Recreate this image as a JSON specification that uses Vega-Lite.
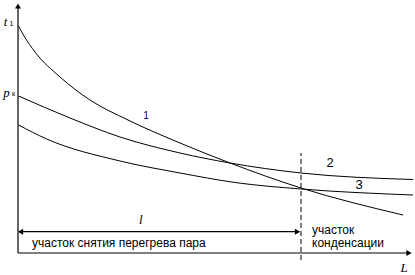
{
  "$schema": "https://vega.github.io/schema/vega-lite/v6.json",
  "width": 415,
  "height": 275,
  "padding": 0,
  "autosize": {"type": "none"},
  "background": "white",
  "config": {"view": {"stroke": null}},
  "datasets": {
    "curves": [
      {"curve": "1", "L": 0.5, "t": 227},
      {"curve": "1", "L": 6, "t": 217},
      {"curve": "1", "L": 17, "t": 201},
      {"curve": "1", "L": 42, "t": 176},
      {"curve": "1", "L": 72, "t": 153},
      {"curve": "1", "L": 110, "t": 133},
      {"curve": "1", "L": 162, "t": 110},
      {"curve": "1", "L": 212, "t": 90},
      {"curve": "1", "L": 283, "t": 65},
      {"curve": "1", "L": 385, "t": 38},
      {"curve": "2", "L": 0.5, "t": 157},
      {"curve": "2", "L": 52, "t": 135},
      {"curve": "2", "L": 102, "t": 116},
      {"curve": "2", "L": 162, "t": 100},
      {"curve": "2", "L": 212, "t": 90},
      {"curve": "2", "L": 283, "t": 80},
      {"curve": "2", "L": 395, "t": 73.5},
      {"curve": "3", "L": 0.5, "t": 128},
      {"curve": "3", "L": 28.7, "t": 114},
      {"curve": "3", "L": 102, "t": 92},
      {"curve": "3", "L": 162, "t": 80},
      {"curve": "3", "L": 217, "t": 70.5},
      {"curve": "3", "L": 283, "t": 64},
      {"curve": "3", "L": 395, "t": 58}
    ]
  },
  "encoding": {
    "x": {"type": "quantitative", "scale": {"domain": [-18, 397], "nice": false, "zero": false}, "axis": null},
    "y": {"type": "quantitative", "scale": {"domain": [-22, 253], "nice": false, "zero": false}, "axis": null}
  },
  "layer": [
    {
      "data": {"values": [{"x1": 0, "x2": 0, "y1": 0, "y2": 246}, {"x1": 0, "x2": 391, "y1": 0, "y2": 0}, {"x1": 2, "x2": 281, "y1": 21.3, "y2": 21.3}]},
      "mark": {"type": "rule", "color": "black", "strokeWidth": 1.2},
      "encoding": {"x": {"field": "x1"}, "x2": {"field": "x2"}, "y": {"field": "y1"}, "y2": {"field": "y2"}}
    },
    {
      "data": {"values": [{"x": 283, "y1": -7, "y2": 100}]},
      "mark": {"type": "rule", "color": "black", "strokeWidth": 1, "strokeDash": [5, 3]},
      "encoding": {"x": {"field": "x"}, "y": {"field": "y1"}, "y2": {"field": "y2"}}
    },
    {
      "data": {"values": [{"x": 0, "y": 247}]},
      "mark": {"type": "point", "shape": "triangle-up", "filled": true, "color": "black", "size": 36, "opacity": 1},
      "encoding": {"x": {"field": "x"}, "y": {"field": "y"}}
    },
    {
      "data": {"values": [{"x": 391, "y": 0}, {"x": 279.5, "y": 21.3}]},
      "mark": {"type": "point", "shape": "triangle-right", "filled": true, "color": "black", "size": 36, "opacity": 1},
      "encoding": {"x": {"field": "x"}, "y": {"field": "y"}}
    },
    {
      "data": {"values": [{"x": 2.5, "y": 21.3}]},
      "mark": {"type": "point", "shape": "triangle-left", "filled": true, "color": "black", "size": 36, "opacity": 1},
      "encoding": {"x": {"field": "x"}, "y": {"field": "y"}}
    },
    {
      "data": {"name": "curves"},
      "mark": {"type": "line", "color": "black", "strokeWidth": 1, "interpolate": "monotone"},
      "encoding": {"x": {"field": "L"}, "y": {"field": "t"}, "detail": {"field": "curve"}}
    },
    {
      "data": {"values": [{"label": "1", "x": 128, "y": 137}]},
      "mark": {"type": "text", "font": "Liberation Sans", "fontSize": 10, "color": "black"},
      "encoding": {"x": {"field": "x"}, "y": {"field": "y"}, "text": {"field": "label"}}
    },
    {
      "data": {"values": [{"label": "2", "x": 312, "y": 90}, {"label": "3", "x": 341, "y": 68}]},
      "mark": {"type": "text", "font": "Liberation Sans", "fontSize": 13, "color": "black"},
      "encoding": {"x": {"field": "x"}, "y": {"field": "y"}, "text": {"field": "label"}}
    },
    {
      "data": {"values": [
        {"label": "участок снятия перегрева пара", "x": 14, "y": 10},
        {"label": "участок", "x": 294, "y": 23},
        {"label": "конденсации", "x": 294, "y": 10}
      ]},
      "mark": {"type": "text", "font": "Liberation Sans", "fontSize": 12, "color": "black", "align": "left", "baseline": "middle"},
      "encoding": {"x": {"field": "x"}, "y": {"field": "y"}, "text": {"field": "label"}}
    },
    {
      "data": {"values": [{"label": "l", "x": 122.7, "y": 33}, {"label": "L", "x": 386, "y": -14.5}]},
      "mark": {"type": "text", "font": "Liberation Serif", "fontStyle": "italic", "fontSize": 13, "color": "black", "baseline": "middle"},
      "encoding": {"x": {"field": "x"}, "y": {"field": "y"}, "text": {"field": "label"}}
    },
    {
      "data": {"values": [{"label": "t", "x": -12.5, "y": 231}, {"label": "p", "x": -11.5, "y": 160}]},
      "mark": {"type": "text", "font": "Liberation Serif", "fontStyle": "italic", "fontSize": 13, "color": "black", "baseline": "middle"},
      "encoding": {"x": {"field": "x"}, "y": {"field": "y"}, "text": {"field": "label"}}
    },
    {
      "data": {"values": [{"label": "1", "x": -8.5, "y": 229}, {"label": "к", "x": -6, "y": 159}]},
      "mark": {"type": "text", "font": "Liberation Sans", "fontSize": 7, "color": "black", "baseline": "middle", "align": "left"},
      "encoding": {"x": {"field": "x"}, "y": {"field": "y"}, "text": {"field": "label"}}
    }
  ]
}
